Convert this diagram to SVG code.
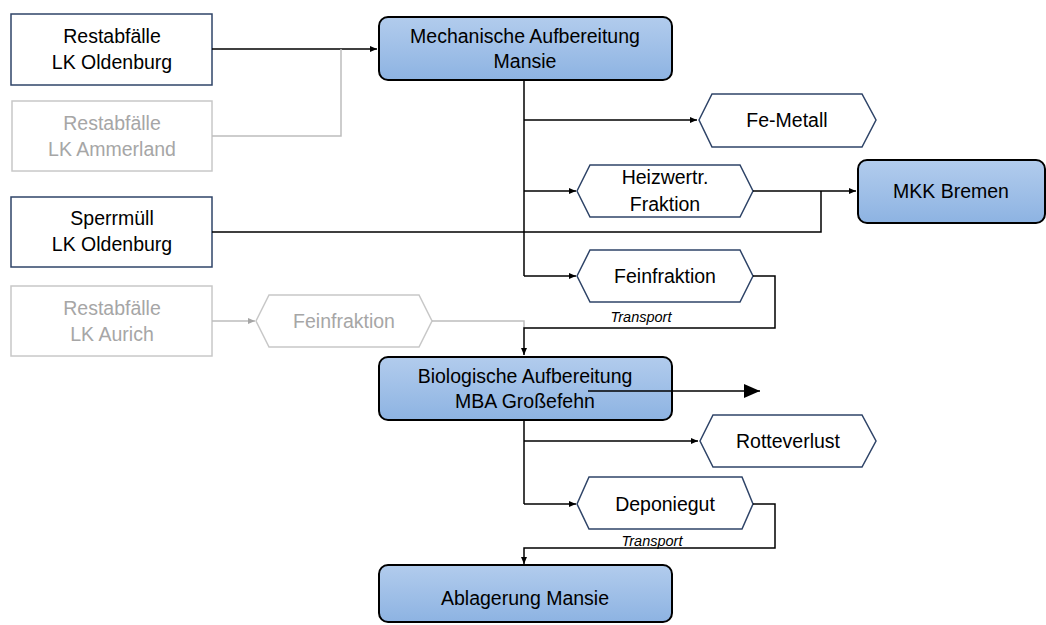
<svg xmlns="http://www.w3.org/2000/svg" width="1046" height="625" viewBox="0 0 1046 625">
<style>
text{font-family:"Liberation Sans",Arial,sans-serif;font-size:19.5px;fill:#000;text-anchor:middle}
.g text, text.g{fill:#a6a6a6}
.box{fill:#fff;stroke:#2f4468;stroke-width:1.5}
.gbox{fill:#fff;stroke:#c8c8c8;stroke-width:1.5}
.hex{fill:#fff;stroke:#2f4468;stroke-width:1.5}
.ghex{fill:#fff;stroke:#c8c8c8;stroke-width:1.5}
.proc{fill:url(#blue);stroke:#000;stroke-width:2}
.c{fill:none;stroke:#000;stroke-width:1.5}
.cg{fill:none;stroke:#bdbdbd;stroke-width:1.5}
.t{font-size:14.5px;font-style:italic}
</style>
<defs>
<linearGradient id="blue" x1="0" y1="0" x2="0" y2="1">
<stop offset="0" stop-color="#b2cced"/>
<stop offset="1" stop-color="#8db3e2"/>
</linearGradient>
<marker id="a" markerWidth="8" markerHeight="8" refX="7" refY="4" orient="auto" markerUnits="userSpaceOnUse">
<path d="M0,1 L7,4 L0,7 z" fill="#000"/>
</marker>
<marker id="ag" markerWidth="8" markerHeight="8" refX="7" refY="4" orient="auto" markerUnits="userSpaceOnUse">
<path d="M0,1 L7,4 L0,7 z" fill="#a6a6a6"/>
</marker>
<marker id="big" markerWidth="18" markerHeight="16" refX="16" refY="8" orient="auto" markerUnits="userSpaceOnUse">
<path d="M0,1 L16,8 L0,15 z" fill="#000"/>
</marker>
</defs>

<g id="rest-oldenburg">
<rect class="box" x="11" y="14" width="201" height="71"/>
<text x="112" y="43">Restabfälle</text>
<text x="112" y="69">LK Oldenburg</text>
</g>
<g id="rest-ammerland" class="g">
<rect class="gbox" x="12" y="101" width="200" height="70"/>
<text x="112" y="130">Restabfälle</text>
<text x="112" y="156">LK Ammerland</text>
</g>
<g id="sperrmuell">
<rect class="box" x="11" y="197" width="201" height="70"/>
<text x="112" y="225">Sperrmüll</text>
<text x="112" y="251">LK Oldenburg</text>
</g>
<g id="rest-aurich" class="g">
<rect class="gbox" x="11" y="286" width="201" height="70"/>
<text x="112" y="315">Restabfälle</text>
<text x="112" y="341">LK Aurich</text>
</g>
<g id="fein-aurich" class="g">
<polygon class="ghex" points="256,321 269,295 419,295 432,321 419,347 269,347"/>
<text x="344" y="328">Feinfraktion</text>
</g>
<g id="mech">
<rect class="proc" x="379" y="17" width="293" height="63" rx="9"/>
<text x="525" y="43">Mechanische Aufbereitung</text>
<text x="525" y="68">Mansie</text>
</g>
<g id="fe">
<polygon class="hex" points="699,120 712,94 862,94 876,120 862,147 712,147"/>
<text x="787" y="127">Fe-Metall</text>
</g>
<g id="heiz">
<polygon class="hex" points="577,191 590,165 740,165 753,191 740,217 590,217"/>
<text x="665" y="184">Heizwertr.</text>
<text x="665" y="211">Fraktion</text>
</g>
<g id="mkk">
<rect class="proc" x="858" y="160" width="187" height="63" rx="9"/>
<text x="951" y="198">MKK Bremen</text>
</g>
<g id="fein">
<polygon class="hex" points="577,276 590,250 740,250 753,276 740,302 590,302"/>
<text x="665" y="283">Feinfraktion</text>
</g>
<g id="bio">
<rect class="proc" x="379" y="357" width="293" height="63" rx="9"/>
<text x="525" y="383">Biologische Aufbereitung</text>
<text x="525" y="408">MBA Großefehn</text>
</g>
<g id="rotte">
<polygon class="hex" points="700,441 713,415 862,415 876,441 862,467 713,467"/>
<text x="788" y="448">Rotteverlust</text>
</g>
<g id="depo">
<polygon class="hex" points="577,504 589,477 742,477 753,504 742,529 589,529"/>
<text x="665" y="511">Deponiegut</text>
</g>
<g id="ablagerung">
<rect class="proc" x="379" y="565" width="293" height="57" rx="9"/>
<text x="525" y="605">Ablagerung Mansie</text>
</g>

<g id="connectors">
<path class="c" d="M212,49 H377" marker-end="url(#a)"/>
<path class="cg" d="M212,136 H341 V49"/>
<path class="c" d="M212,232 H821 V191"/>
<path class="c" d="M524,81 V276"/>
<path class="c" d="M524,120 H697" marker-end="url(#a)"/>
<path class="c" d="M524,191 H576" marker-end="url(#a)"/>
<path class="c" d="M753,191 H856" marker-end="url(#a)"/>
<path class="c" d="M524,276 H576" marker-end="url(#a)"/>
<path class="cg" d="M212,321 H255" marker-end="url(#ag)"/>
<path class="cg" d="M432,321 H524 V328"/>
<path class="c" d="M753,276 H775 V328 H524 V355" marker-end="url(#a)"/>
<path class="c" d="M588,391 H760" stroke-width="2" marker-end="url(#big)"/>
<path class="c" d="M524,421 V504"/>
<path class="c" d="M524,441 H698" marker-end="url(#a)"/>
<path class="c" d="M524,504 H576" marker-end="url(#a)"/>
<path class="c" d="M753,504 H775 V548 H524 V564" marker-end="url(#a)"/>
<text class="t" x="641" y="322">Transport</text>
<text class="t" x="652" y="546">Transport</text>
</g>
</svg>
